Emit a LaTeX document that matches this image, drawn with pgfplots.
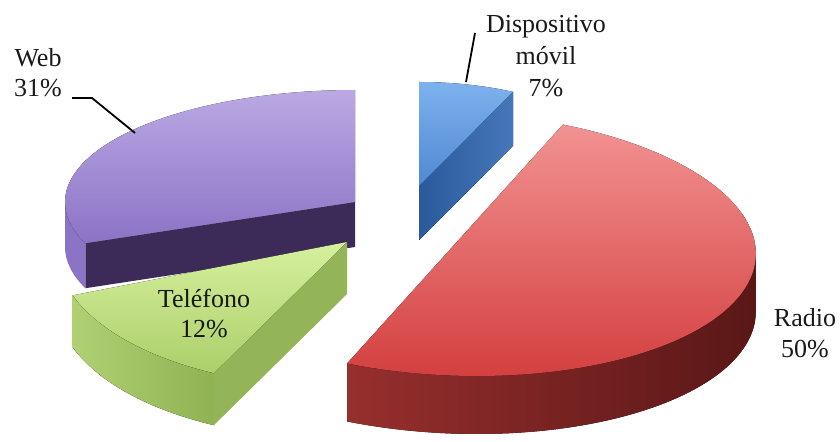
\documentclass[border=0pt]{standalone}
\usepackage{pgfplots}
\pgfplotsset{compat=1.18}
\usepackage{pgfplotstable}
\usepackage{fontspec}
\setmainfont{Liberation Serif}

\definecolor{btopT}{HTML}{7DB2EE}
\definecolor{btopB}{HTML}{5088D2}
\definecolor{bwallL}{HTML}{2A5A9A}
\definecolor{bwallR}{HTML}{4677BA}
\definecolor{rtopT}{HTML}{F29292}
\definecolor{rtopB}{HTML}{D43F3F}
\definecolor{rrimL}{HTML}{962F2D}
\definecolor{rrimM}{HTML}{6C1E1E}
\definecolor{rrimR}{HTML}{5A1717}
\definecolor{gtopT}{HTML}{D6F09E}
\definecolor{gtopB}{HTML}{ACCF69}
\definecolor{grimL}{HTML}{B0D173}
\definecolor{grimR}{HTML}{8FB252}
\definecolor{gwall}{HTML}{93B558}
\definecolor{ptopT}{HTML}{BAA9E3}
\definecolor{ptopB}{HTML}{8C73C6}
\definecolor{pwall}{HTML}{3C2A58}
\definecolor{prim}{HTML}{8B73C5}

\pgfplotstableread{
cat value
Dispositivo 7
Radio 50
Telefono 12
Web 31
}\piedata

\newcommand\lbl{\fontsize{26}{31}\selectfont}

\begin{document}
\begin{tikzpicture}
\pgfplotstablegetelem{0}{value}\of\piedata \let\vA\pgfplotsretval
\pgfplotstablegetelem{1}{value}\of\piedata \let\vB\pgfplotsretval
\pgfplotstablegetelem{2}{value}\of\piedata \let\vC\pgfplotsretval
\pgfplotstablegetelem{3}{value}\of\piedata \let\vD\pgfplotsretval
\pgfmathsetmacro\aA{90}
\pgfmathsetmacro\aB{\aA-3.6*\vA}
\pgfmathsetmacro\aC{\aB-3.6*\vB}
\pgfmathsetmacro\aD{\aC-3.6*\vC}
\pgfmathsetmacro\aE{\aD-3.6*\vD}
% red slice shear and silhouette angle
\pgfmathsetmacro\kR{-0.166}
\pgfmathsetmacro\tR{atan(\kR*132/300)}
\pgfmathsetmacro\dxR{\kR*58}
\pgfmathsetmacro\kG{0.07}
\pgfmathsetmacro\dxG{\kG*52}
\begin{axis}[x=1pt, y=1pt, xmin=0, xmax=840, ymin=0, ymax=441,
  hide axis, clip=false]
\path (axis cs:0,0) rectangle (axis cs:840,441);

% ---- Dispositivo movil (blue)
\begin{scope}[shift={(axis cs:419,255)}]
  \fill[left color=bwallL, right color=bwallR] (0pt,0pt) -- (\aB:221pt and 104pt) -- ++(0pt,-54pt) -- (0pt,-54pt) -- cycle;
  \fill[top color=btopT, bottom color=btopB] (0pt,0pt) -- (\aA:221pt and 104pt)
     arc[start angle=\aA, end angle=\aB, x radius=221pt, y radius=104pt] -- cycle;
\end{scope}

% ---- Web (purple)
\begin{scope}[shift={(axis cs:355,239)}]
  \fill[pwall] (0pt,0pt) -- (\aD:290pt and 112pt) -- ++(0pt,-45pt) -- (0pt,-45pt) -- cycle;
  \fill[prim] (\aD:290pt and 112pt) arc[start angle=\aD, end angle=-180, x radius=290pt, y radius=112pt]
     -- ++(0pt,-45pt) arc[start angle=-180, end angle=\aD, x radius=290pt, y radius=112pt] -- cycle;
  \fill[top color=ptopT, bottom color=ptopB] (0pt,0pt) -- (\aD:290pt and 112pt)
     arc[start angle=\aD, end angle=\aE, x radius=290pt, y radius=112pt] -- cycle;
\end{scope}

% ---- Telefono (green)
\begin{scope}[shift={(axis cs:347,199)}, xslant=\kG]
  \fill[gwall] (0pt,0pt) -- (\aC:291pt and 145pt) -- ++(\dxG pt,-52pt) -- (\dxG pt,-52pt) -- cycle;
  \fill[left color=grimL, right color=grimR] (\aC:291pt and 145pt)
     arc[start angle=\aC, end angle=\aD, x radius=291pt, y radius=145pt]
     -- ++(\dxG pt,-52pt) arc[start angle=\aD, end angle=\aC, x radius=291pt, y radius=145pt] -- cycle;
  \fill[top color=gtopT, bottom color=gtopB] (0pt,0pt) -- (\aC:291pt and 145pt)
     arc[start angle=\aC, end angle=\aD, x radius=291pt, y radius=145pt] -- cycle;
\end{scope}

% ---- Radio (red)
\begin{scope}[shift={(axis cs:455,197)}, xslant=\kR]
  \fill[left color=rrimL, middle color=rrimM, right color=rrimR] (\tR:300pt and 132pt)
     arc[start angle=\tR, end angle=\aC, x radius=300pt, y radius=132pt]
     -- ++(\dxR pt,-58pt) arc[start angle=\aC, end angle=\tR, x radius=300pt, y radius=132pt] -- cycle;
  \fill[top color=rtopT, bottom color=rtopB] (0pt,0pt) -- (\aB:300pt and 132pt)
     arc[start angle=\aB, end angle=\aC, x radius=300pt, y radius=132pt] -- cycle;
\end{scope}

% ---- leader lines
\draw[line width=1.8pt, black] (axis cs:72,343) -- (axis cs:92,343) -- (axis cs:135,308);
\draw[line width=1.8pt, black] (axis cs:475,408) -- (axis cs:466,359);

% ---- labels
\node[anchor=base, text=black!90, font=\lbl] at (axis cs:546,408) {Dispositivo};
\node[anchor=base, text=black!90, font=\lbl] at (axis cs:546,376) {móvil};
\node[anchor=base, text=black!90, font=\lbl] at (axis cs:546,344) {7\%};
\node[anchor=base, text=black!90, font=\lbl] at (axis cs:38,374) {Web};
\node[anchor=base, text=black!90, font=\lbl] at (axis cs:38,344) {31\%};
\node[anchor=base, text=black!90, font=\lbl] at (axis cs:204,133) {Teléfono};
\node[anchor=base, text=black!90, font=\lbl] at (axis cs:204,103) {12\%};
\node[anchor=base, text=black!90, font=\lbl] at (axis cs:805,114) {Radio};
\node[anchor=base, text=black!90, font=\lbl] at (axis cs:805,83) {50\%};
\end{axis}
\end{tikzpicture}
\end{document}
